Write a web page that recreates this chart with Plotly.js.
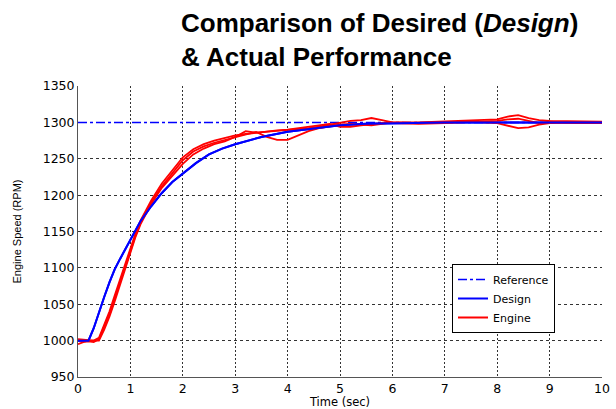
<!DOCTYPE html>
<html>
<head>
<meta charset="utf-8">
<script src="https://cdn.plot.ly/plotly-3.0.1.min.js"></script>
<style>html,body{margin:0;padding:0;background:#fff;}#chart{width:616px;height:409px;}</style>
</head>
<body>
<div id="chart"></div>
<script>
// Reference
const refTime = [0, 10];
const refSpeed = [1300, 1300];

// Design (model response)
const designTime = [0,0.2,0.3,0.4,0.5,0.6,0.7,0.8,0.9,1.0,1.2,1.4,1.6,1.8,2.0,2.25,2.5,2.75,3.0,3.5,4,4.5,5,5.5,6,7,8,9,10];
const designSpeed = [1000,1000,1017,1040,1060,1080,1098,1112,1125,1140,1165,1185,1203,1218,1230,1244,1256,1264,1270,1280,1287,1292,1296,1298,1299,1300,1300,1300,1300];

// Engine (several test runs)
const engineTime = [0,0.1,0.2,0.3,0.4,0.5,0.6,0.7,0.8,0.9,1.0,1.1,1.2,1.4,1.6,1.8,2.0,2.2,2.4,2.6,2.8,3.0,3.2,3.4,3.6,3.8,4.0,4.2,4.4,4.6,4.8,5.0,5.2,5.4,5.6,5.8,6.0,6.5,7.0,7.5,8.0,8.2,8.4,8.6,8.8,9.0,9.5,10];
const engineRun1 = [995,998,999,998,1002,1020,1037,1058,1080,1103,1125,1145,1163,1190,1212,1230,1248,1260,1267,1272,1276,1279,1283,1287,1280,1276,1276,1282,1288,1292,1295,1297,1298,1297,1296,1298,1300,1300,1301,1302,1304,1308,1310,1306,1303,1302,1301,1301];
const engineRun2 = [1000,1000,999,999,1000,1015,1033,1054,1077,1100,1122,1143,1161,1188,1210,1227,1243,1256,1264,1270,1274,1280,1288,1286,1287,1288,1289,1290,1292,1294,1297,1299,1302,1303,1306,1303,1300,1299,1300,1301,1299,1296,1292,1293,1297,1299,1300,1300];
const engineRun3 = [1002,1001,1000,1000,1004,1022,1040,1062,1084,1106,1128,1148,1166,1193,1216,1234,1252,1263,1270,1275,1279,1282,1284,1286,1288,1289,1290,1292,1293,1296,1298,1294,1294,1296,1298,1299,1299,1298,1299,1300,1302,1304,1305,1302,1299,1301,1299,1299];

const xTicks = [0,1,2,3,4,5,6,7,8,9,10];
const yTicks = [950,1000,1050,1100,1150,1200,1250,1300,1350];

const titleLines = ['Comparison of Desired (<i>Design</i>)', '&amp; Actual Performance'];

const red = '#ff0000', blue = '#0000ff';
const traces = [
  {x: refTime, y: refSpeed, mode:'lines', name:'Reference', line:{color:blue,width:1.5,dash:'dashdot'}},
  {x: designTime, y: designSpeed, mode:'lines', name:'Design', line:{color:blue,width:2}},
  {x: [null], y: [null], mode:'lines', name:'Engine', line:{color:red,width:2}},
  {x: engineTime, y: engineRun1, mode:'lines', line:{color:red,width:1.8}, showlegend:false},
  {x: engineTime, y: engineRun2, mode:'lines', line:{color:red,width:1.8}, showlegend:false},
  {x: engineTime, y: engineRun3, mode:'lines', line:{color:red,width:1.8}, showlegend:false},
  {x: designTime, y: designSpeed, mode:'lines', line:{color:blue,width:2}, showlegend:false}
];

const tickFont = {family:'DejaVu Sans, sans-serif', size:12.5, color:'#000'};
const layout = {
  width:616, height:409,
  margin:{l:78, r:14, t:86, b:32},
  paper_bgcolor:'#fff', plot_bgcolor:'#fff',
  annotations:[{
    text:'<b>' + titleLines.join('<br>') + '</b>',
    font:{family:'Liberation Sans Narrow, Arial Narrow, Liberation Sans, sans-serif', size:26, color:'#000'},
    xref:'paper', yref:'paper', x:(179-78)/524, xanchor:'left', y:(377-6)/291, yanchor:'top',
    showarrow:false, align:'left'
  }],
  xaxis:{
    range:[0,10], tickvals:xTicks, ticktext:xTicks.map(String),
    showline:true, linecolor:'#555', linewidth:1, mirror:false,
    ticks:'',
    showgrid:true, gridcolor:'#333', gridwidth:1, griddash:'2px,2px',
    zeroline:false, tickfont:tickFont,
    title:{text:'Time (sec)', font:{family:'DejaVu Sans, sans-serif', size:11.5, color:'#000'}, standoff:0}
  },
  yaxis:{
    range:[950,1350], tickvals:yTicks, ticktext:yTicks.map(String),
    showline:true, linecolor:'#555', linewidth:1, mirror:false,
    ticks:'',
    showgrid:true, gridcolor:'#333', gridwidth:1, griddash:'3px,3px',
    zeroline:false, tickfont:tickFont,
    title:{text:'Engine Speed (RPM)', font:{family:'Liberation Sans Narrow, Arial Narrow, Arial, sans-serif', size:11, color:'#000'}, standoff:18}
  },
  legend:{
    x:(452-78)/524, y:(377-264)/291, xanchor:'left', yanchor:'top',
    bgcolor:'#fff', bordercolor:'#000', borderwidth:1,
    font:{family:'DejaVu Sans, sans-serif', size:11, color:'#000'},
    tracegroupgap:0, traceorder:'normal', itemwidth:30,
    entrywidth:95, entrywidthmode:'pixels'
  },
  showlegend:true
};

Plotly.newPlot('chart', traces, layout, {staticPlot:true, displayModeBar:false});
</script>
</body>
</html>
